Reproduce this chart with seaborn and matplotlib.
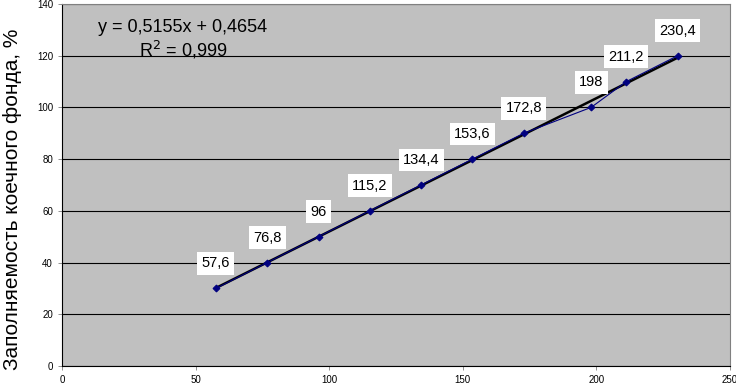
import matplotlib
matplotlib.use('Agg')
import matplotlib.pyplot as plt
import seaborn as sns
import numpy as np

# Данные
beds_x = [57.6, 76.8, 96, 115.2, 134.4, 153.6, 172.8, 198, 211.2, 230.4]
occupancy_y = [30, 40, 50, 60, 70, 80, 90, 100, 110, 120]
point_labels = ['57,6', '76,8', '96', '115,2', '134,4', '153,6', '172,8', '198', '211,2', '230,4']
trend_slope = 0.5155
trend_intercept = 0.4654

sns.set_style('white')
plt.rcParams['font.family'] = ['Liberation Sans', 'DejaVu Sans']
plt.rcParams['text.color'] = 'black'
plt.rcParams['axes.labelcolor'] = 'black'
plt.rcParams['xtick.color'] = 'black'
plt.rcParams['ytick.color'] = 'black'

fig = plt.figure(figsize=(7.36, 3.84), dpi=100)
ax = fig.add_axes([0.0842, 0.047, 0.9078, 0.9427])
ax.set_facecolor('#c0c0c0')

# линия тренда
trend_x = np.array([beds_x[0], beds_x[-1]])
ax.plot(trend_x, trend_slope * trend_x + trend_intercept, color='black', lw=1.8, zorder=3)

sns.lineplot(x=beds_x, y=occupancy_y, ax=ax, color='#000080', lw=0.8,
             marker='D', markersize=3.5, markeredgecolor='#000080', zorder=4)

for x, y, lab in zip(beds_x, occupancy_y, point_labels):
    ax.annotate(lab, (x, y), xytext=(0, 25), textcoords='offset pixels',
                ha='center', va='center', fontsize=10.5,
                bbox=dict(boxstyle='square,pad=0.3', fc='white', ec='none'), zorder=5)

ax.text(45.3, 131, 'y = 0,5155x + 0,4654', ha='center', va='center', fontsize=13)
ax.text(45.3, 122.2, 'R$^2$ = 0,999', ha='center', va='center', fontsize=13)

ax.set_xlim(0, 250)
ax.set_ylim(0, 140)
ax.set_xticks(range(0, 251, 50))
ax.set_yticks(range(0, 141, 20))
ax.yaxis.grid(True, color='black', lw=0.8)
ax.set_axisbelow(True)
ax.tick_params(labelsize=7, length=3, direction='out', left=True, bottom=True,
               width=0.6, color='#808080')
for side in ['top', 'right']:
    ax.spines[side].set_color('#808080')
    ax.spines[side].set_linewidth(0.8)
for side in ['left', 'bottom']:
    ax.spines[side].set_color('black')
    ax.spines[side].set_linewidth(0.8)

ax.set_ylabel('Заполняемость коечного фонда, %', fontsize=15)
ax.yaxis.set_label_coords(-0.06, 0.46)

fig.savefig('out.png', dpi=100)
